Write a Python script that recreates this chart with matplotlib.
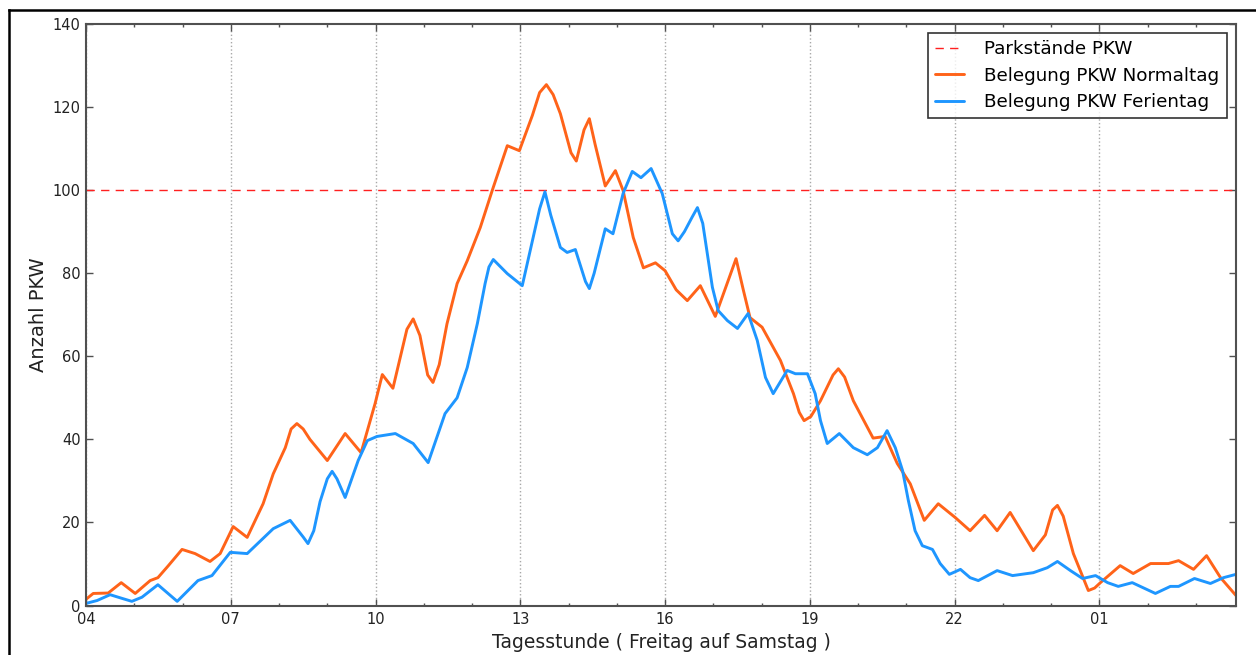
import matplotlib
matplotlib.use("Agg")
import matplotlib.pyplot as plt
from matplotlib.ticker import FixedLocator, MultipleLocator
from matplotlib.lines import Line2D

# ---- data (hours since midnight Friday; values > 24 are Saturday morning) ----
normal_h = [4.00, 4.15, 4.46, 4.73, 5.02, 5.33, 5.49, 5.70, 5.99, 6.26, 6.57, 6.78,
            7.05, 7.34, 7.67, 7.88, 8.13, 8.25, 8.37, 8.50, 8.64, 9.00, 9.37, 9.70, 9.99,
            10.14, 10.36, 10.65, 10.78, 10.92, 11.08, 11.19, 11.32, 11.48, 11.69, 11.90,
            12.17, 12.42, 12.73, 12.98, 13.25, 13.40, 13.54, 13.68, 13.83, 14.05, 14.16,
            14.32, 14.43, 14.55, 14.76, 14.97, 15.13, 15.34, 15.55, 15.80, 16.00,
            16.23, 16.46, 16.73, 17.04, 17.30, 17.47, 17.62, 17.76, 18.01, 18.39, 18.66,
            18.78, 18.88, 19.02, 19.22, 19.48, 19.59, 19.72, 19.90, 20.31, 20.56, 20.81,
            21.08, 21.37, 21.66, 22.01, 22.32, 22.62, 22.88, 23.15, 23.63, 23.88, 24.03,
            24.13, 24.25, 24.46, 24.77, 24.90, 25.02, 25.43, 25.70, 26.06,
            26.43, 26.64, 26.95, 27.22, 27.51, 27.83]
normal_v = [1.5, 2.9, 3.0, 5.5, 2.9, 6.0, 6.7, 9.5, 13.5, 12.5, 10.6, 12.5,
            19.0, 16.4, 24.5, 31.7, 38.0, 42.5, 43.8, 42.5, 40.0, 34.9, 41.4, 36.8, 48.6,
            55.6, 52.3, 66.5, 69.0, 65.0, 55.5, 53.7, 58.0, 67.8, 77.5, 83.0,
            91.0, 100.0, 110.7, 109.5, 118.0, 123.5, 125.4, 123.0, 118.4, 109.0, 107.0,
            114.5, 117.2, 111.0, 101.0, 104.7, 99.9, 88.6, 81.3, 82.5, 80.6,
            76.0, 73.4, 77.0, 69.6, 78.0, 83.5, 76.0, 69.3, 67.0, 59.0, 51.0,
            46.5, 44.5, 45.5, 49.3, 55.5, 57.0, 55.0, 49.3, 40.3, 40.7, 34.2,
            29.3, 20.5, 24.5, 21.2, 18.0, 21.7, 18.0, 22.4, 13.2, 17.0, 23.0,
            24.1, 21.5, 12.5, 3.6, 4.2, 5.5, 9.6, 7.7, 10.1,
            10.1, 10.8, 8.7, 12.0, 6.7, 2.4]

ferien_h = [4.00, 4.23, 4.50, 4.75, 4.95, 5.16, 5.49, 5.89, 6.32, 6.61, 6.99, 7.34,
            7.88, 8.23, 8.50, 8.60, 8.72, 8.85, 9.00, 9.10, 9.20, 9.37, 9.64, 9.83, 10.03,
            10.41, 10.78, 11.09, 11.44, 11.69, 11.90, 12.11, 12.27, 12.35, 12.44, 12.55,
            12.73, 13.04, 13.40, 13.51, 13.63, 13.83, 13.97, 14.14, 14.35, 14.43, 14.53,
            14.76, 14.92, 15.13, 15.32, 15.50, 15.71, 15.94, 16.15, 16.27, 16.40, 16.56,
            16.67, 16.78, 16.98, 17.10, 17.29, 17.50, 17.72, 17.91, 18.08, 18.24, 18.53,
            18.70, 18.95, 19.11, 19.22, 19.36, 19.61, 19.90, 20.19, 20.40, 20.60, 20.77,
            20.92, 21.04, 21.18, 21.33, 21.54, 21.70, 21.89, 22.12, 22.32, 22.49, 22.88,
            23.20, 23.63, 23.92, 24.13, 24.40, 24.65, 24.92, 25.17, 25.39, 25.68, 26.16,
            26.47, 26.64, 26.97, 27.30, 27.57, 27.83]
ferien_v = [0.5, 1.2, 2.6, 1.7, 1.0, 2.0, 5.0, 1.0, 6.0, 7.2, 12.8, 12.5,
            18.5, 20.5, 16.5, 14.9, 18.0, 25.0, 30.5, 32.3, 30.5, 26.0, 34.9, 39.7, 40.7,
            41.4, 39.0, 34.4, 46.2, 50.0, 57.3, 67.9, 77.5, 81.5, 83.3, 82.0,
            79.9, 77.0, 95.5, 99.6, 94.0, 86.2, 85.0, 85.7, 78.0, 76.3, 80.0,
            90.7, 89.5, 99.2, 104.5, 103.0, 105.2, 99.2, 89.5, 87.8, 90.0, 93.5,
            95.8, 92.0, 76.6, 71.0, 68.6, 66.7, 70.3, 63.8, 54.9, 51.0, 56.6,
            55.8, 55.8, 51.0, 44.5, 39.0, 41.4, 38.0, 36.3, 38.0, 42.1, 38.0,
            32.5, 25.3, 18.0, 14.4, 13.5, 10.1, 7.5, 8.7, 6.7, 6.0, 8.4,
            7.2, 7.9, 9.1, 10.6, 8.4, 6.5, 7.2, 5.5, 4.6, 5.5, 2.9,
            4.6, 4.6, 6.5, 5.3, 6.7, 7.5]

capacity = 100
xtick_pos = [4, 7, 10, 13, 16, 19, 22, 25]
xtick_labels = ["04", "07", "10", "13", "16", "19", "22", "01"]
ytick_pos = [0, 20, 40, 60, 80, 100, 120, 140]

# ---- figure ----
W, H = 1256, 655
fig = plt.figure(figsize=(W / 100, H / 100), dpi=100)
ax = fig.add_axes([86 / W, 1 - 605.5 / H, (1236 - 86) / W, (605.5 - 24) / H])

ax.axhline(capacity, color="#ff2020", lw=1.0, dashes=(6, 4.5), label="Parkstände PKW")
line_kw = dict(lw=2.1, solid_joinstyle="round", solid_capstyle="round")
ax.plot(normal_h, normal_v, color="#ff6319", label="Belegung PKW Normaltag", **line_kw)
ax.plot(ferien_h, ferien_v, color="#1e96ff", label="Belegung PKW Ferientag", **line_kw)

ax.set_xlim(4, 27.83)
ax.set_ylim(0, 140)
ax.xaxis.set_major_locator(FixedLocator(xtick_pos))
ax.set_xticklabels(xtick_labels)
ax.xaxis.set_minor_locator(MultipleLocator(1))
ax.yaxis.set_major_locator(FixedLocator(ytick_pos))

spine_c = "#505050"
for s in ax.spines.values():
    s.set_color(spine_c)
    s.set_linewidth(1.5)
ax.tick_params(which="both", direction="in", top=True, right=True, colors=spine_c,
               labelcolor="#222222", labelsize=10.5)
ax.tick_params(which="major", length=5, width=1)
ax.tick_params(which="minor", length=2.5, width=1)
ax.tick_params(axis="x", pad=5)
ax.tick_params(axis="y", pad=4)

ax.grid(axis="x", which="major", color="#a8a8a8", ls=":", lw=1.0)
ax.set_axisbelow(True)

ax.set_xlabel("Tagesstunde ( Freitag auf Samstag )", fontsize=13.5, color="#222222", labelpad=4)
ax.set_ylabel("Anzahl PKW", fontsize=14, color="#222222", labelpad=3)

leg = ax.legend(loc="upper right", fontsize=13.2, frameon=True, fancybox=False,
                handlelength=1.6, handletextpad=1.1, borderaxespad=0.5,
                labelspacing=0.45, borderpad=0.4)
leg.get_frame().set_edgecolor("#000000")
leg.get_frame().set_linewidth(1.2)

# outer frame of the screenshot
fig.add_artist(Line2D([8.5 / W, 8.5 / W], [0, 1 - 10 / H], transform=fig.transFigure,
                      color="black", lw=1.8))
fig.add_artist(Line2D([8.5 / W, 1], [1 - 10 / H, 1 - 10 / H], transform=fig.transFigure,
                      color="black", lw=1.8))

fig.savefig("out.png", dpi=100)
